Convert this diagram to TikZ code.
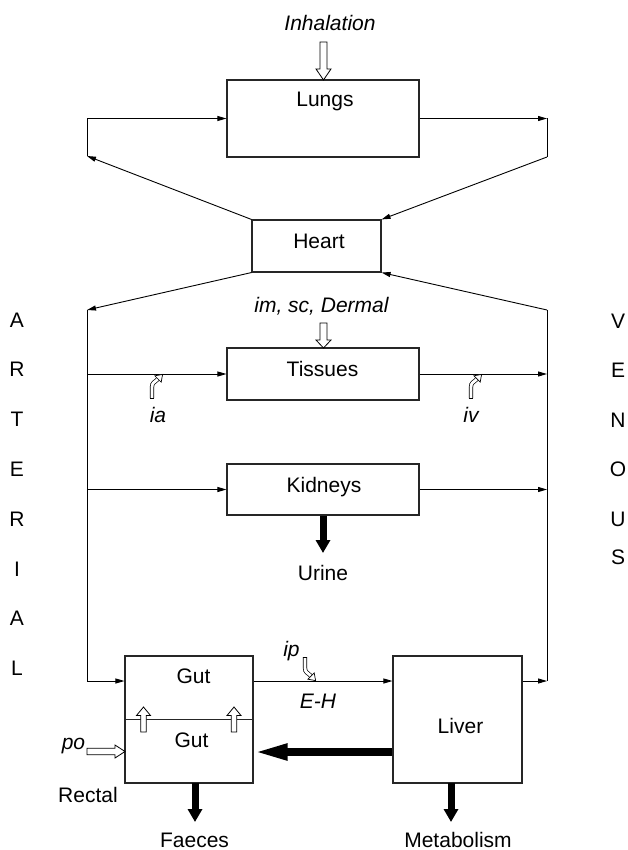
\documentclass[tikz,border=0pt]{standalone}
\usepackage{fontspec}
\setmainfont{Liberation Sans}
\usetikzlibrary{arrows.meta}
\tikzset{
  box/.style={draw=black!85, line width=1.1pt, inner sep=0pt, anchor=center},
  txt/.style={inner sep=0pt, anchor=base, font=\fontsize{21}{25}\selectfont},
  itxt/.style={txt, font=\fontsize{21}{25}\selectfont\itshape},
  conn/.style={line width=0.9pt, -{Triangle[length=9pt,width=5pt]}},
  plain/.style={line width=0.9pt},
  thickdown/.style={line width=7pt, -{Triangle[length=13pt,width=14pt]}},
  thickleft/.style={line width=7.5pt, -{Triangle[length=34pt,width=15pt]}},
  hollowline/.style={draw=black, fill=white, line width=0.8pt, line join=miter},
  curvarr/.pic={
    \draw[line width=0.7pt, double=white, double distance=2.8pt]
      (0,0) -- (0,-11) .. controls (0,-15.5) and (2.5,-15.5) .. (6,-19);
    \draw[line width=0.7pt] (-2.1,0) -- (2.1,0);
    \draw[hollowline, line width=0.7pt] (9.18,-15.82) -- (10.6,-23.6) -- (2.82,-22.18) -- cycle;
  }
}
\newcommand{\hollowarr}[6]{%
  \begin{scope}[shift={#1}, rotate=#2]
    \draw[hollowline] (0,-#5) -- ({#3-#4},-#5) -- ({#3-#4},-#6) -- (#3,0) -- ({#3-#4},#6) -- ({#3-#4},#5) -- (0,#5) -- cycle;
  \end{scope}}
\begin{document}
\begin{tikzpicture}[x=1pt,y=-1pt]
\useasboundingbox (0,0) rectangle (628,850);

% boxes
\node[box, minimum width=192pt, minimum height=77pt] (lungs) at (323,118.5) {};
\node[box, minimum width=129pt, minimum height=52pt] (heart) at (316.5,246) {};
\node[box, minimum width=192pt, minimum height=52pt] (tissues) at (323,374) {};
\node[box, minimum width=192pt, minimum height=51pt] (kidneys) at (323,489.5) {};
\node[box, minimum width=128pt, minimum height=127pt] (gut) at (189,719.5) {};
\node[box, minimum width=129pt, minimum height=127pt] (liver) at (457.5,719.5) {};
\draw[line width=1.1pt, draw=black!85] (gut.west) -- (gut.east);

% texts
\node[itxt] (inh) at (330,31) {Inhalation};
\node[txt] (lungst) at (325,107) {Lungs};
\node[txt] (heartt) at (319,248) {Heart};
\node[itxt] (imsc) at (321.5,312) {im, sc, Dermal};
\node[txt] (tissuest) at (322.5,376) {Tissues};
\node[itxt] (ia) at (158,422) {ia};
\node[itxt] (iv) at (471,422) {iv};
\node[txt] (kidneyst) at (324,492) {Kidneys};
\node[txt] (urine) at (323,580) {Urine};
\node[txt] (gutup) at (193.5,683) {Gut};
\node[txt] (gutlo) at (191.5,747) {Gut};
\node[itxt] (po) at (73.5,749) {po};
\node[txt] (rectal) at (88,802) {Rectal};
\node[txt] (faeces) at (194.5,847) {Faeces};
\node[itxt] (ip) at (291.5,656) {ip};
\node[itxt] (eh) at (318,708) {E-H};
\node[txt] (livert) at (460.5,733) {Liver};
\node[txt] (metab) at (458,847) {Metabolism};

% ARTERIAL / VENOUS
\foreach \c [count=\i from 0] in {A,R,T,E,R,I,A,L}
  \node[txt] (art\i) at (17,{327+\i*49.8}) {\c};
\foreach \c [count=\i from 0] in {V,E,N,O,U}
  \node[txt] (ven\i) at (618,{328+\i*49.6}) {\c};
\node[txt] (ven5) at (618,564) {S};

% coordinates
\coordinate (aL1) at (87,118.5);
\coordinate (aL2) at (87,156);
\coordinate (vL1) at (547,118.5);
\coordinate (vL2) at (547,157);
\coordinate (aTop) at (87,310);
\coordinate (vTop) at (547,310);
\coordinate (aT) at (87,374);
\coordinate (vT) at (547,374);
\coordinate (aK) at (87,489.5);
\coordinate (vK) at (547,489.5);
\coordinate (aGut) at (87,681);
\coordinate (vGut) at (547,681);
\coordinate (thk) at (0,752);
\coordinate (uTip) at (323,553);
\coordinate (fTop) at (195,783);
\coordinate (fTip) at (195,822);
\coordinate (mTop) at (451,783);
\coordinate (mTip) at (451,822);

% lung loop
\draw[conn] (heart.north west) -- (aL2);
\draw[conn] (aL2) -- (aL1) -- (lungs.west);
\draw[conn] (lungs.east) -- (vL1);
\draw[plain] (vL1) -- (vL2);
\draw[conn] (vL2) -- (heart.north east);

% systemic
\draw[conn] (heart.south west) -- (aTop);
\draw[conn] (vTop) -- (heart.south east);
\draw[conn] (aTop) -- (aGut) -- (aGut -| gut.west);
\draw[conn] (aT) -- (tissues.west);
\draw[conn] (aK) -- (kidneys.west);
\draw[conn] (tissues.east) -- (vT);
\draw[conn] (kidneys.east) -- (vK);
\draw[plain] (vTop) -- (vGut);
\draw[conn] (aGut -| gut.east) -- (aGut -| liver.west);
\draw[conn] (vGut -| liver.east) -- (vGut);

% thick arrows
\draw[thickdown] (kidneys.south) -- (uTip);
\draw[thickdown] (fTop) -- (fTip);
\draw[thickdown] (mTop) -- (mTip);
\draw[thickleft] (thk -| liver.west) -- (thk -| gut.east);

% hollow arrows
\hollowarr{(323.5,42)}{-90}{38}{11}{3.5}{7.5}
\hollowarr{(323.5,323)}{-90}{25}{8}{3.5}{7.5}
\hollowarr{(87,751.5)}{0}{38}{10}{3.3}{6.5}
\hollowarr{(143.5,732)}{90}{25}{8.5}{2.8}{7}
\hollowarr{(234,732)}{90}{25}{8.5}{2.8}{7}

% curved hollow arrows
\pic at (152,398) {curvarr};
\pic at (471,398) {curvarr};
\pic[yscale=-1] at (305,657) {curvarr};
\end{tikzpicture}
\end{document}
